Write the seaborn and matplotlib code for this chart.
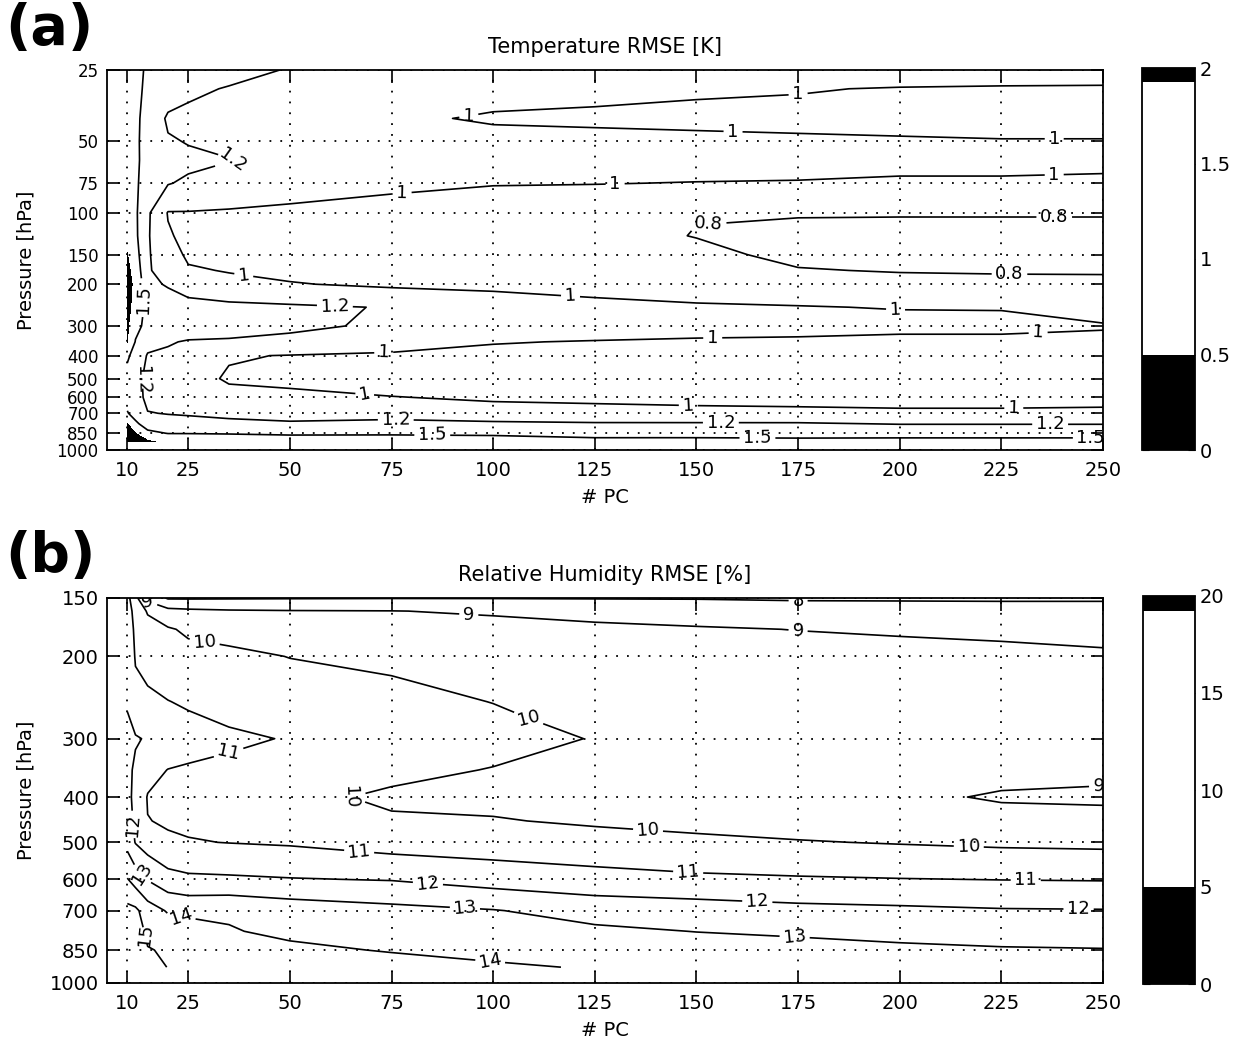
import numpy as np
import matplotlib
matplotlib.use('Agg')
import matplotlib.pyplot as plt
from matplotlib.colors import ListedColormap, Normalize
from matplotlib.cm import ScalarMappable
import seaborn as sns

# number of principal components (grid columns, shared by both panels)
n_pc = [10, 12, 15, 20, 25, 35, 50, 75, 100, 125, 150, 175, 200, 225, 250]

# (a) temperature RMSE [K], one profile per PC column, top (25 hPa) to bottom (925 hPa)
p_temp = [25, 30, 40, 50, 60, 75, 100, 125, 150, 175, 200, 250, 300, 350, 400, 500, 600, 700, 775, 850, 925]
temp_rmse = [
    [1.85, 1.85, 1.84, 1.83, 1.83, 1.84, 1.86, 1.88, 1.93, 2.05, 2.1, 2.05, 1.98, 1.93, 1.55, 1.38, 1.4, 1.52, 1.93, 2.1, 2.3],
    [1.6, 1.6, 1.58, 1.57, 1.57, 1.56, 1.55, 1.56, 1.62, 1.7, 1.8, 1.75, 1.6, 1.48, 1.38, 1.3, 1.3, 1.38, 1.56, 1.92, 2.2],
    [1.45, 1.42, 1.36, 1.35, 1.36, 1.32, 1.23, 1.22, 1.22, 1.22, 1.25, 1.38, 1.4, 1.28, 1.18, 1.12, 1.14, 1.21, 1.35, 1.58, 2.0],
    [1.38, 1.3, 1.17, 1.22, 1.27, 1.21, 0.99, 1.02, 1.08, 1.12, 1.18, 1.32, 1.36, 1.22, 1.16, 1.12, 1.13, 1.19, 1.29, 1.49, 1.8],
    [1.3, 1.23, 1.16, 1.19, 1.24, 1.17, 0.99, 0.95, 0.97, 1.02, 1.1, 1.28, 1.33, 1.18, 1.1, 1.05, 1.07, 1.18, 1.27, 1.49, 1.75],
    [1.25, 1.19, 1.12, 1.17, 1.205, 1.12, 0.98, 0.95, 0.96, 0.99, 1.05, 1.25, 1.3, 1.17, 1.01, 0.985, 1.04, 1.16, 1.24, 1.48, 1.72],
    [1.19, 1.12, 1.07, 1.1, 1.15, 1.08, 0.96, 0.93, 0.93, 0.96, 1.01, 1.23, 1.26, 1.12, 0.995, 0.97, 1.03, 1.14, 1.22, 1.45, 1.7],
    [1.15, 1.09, 1.03, 1.08, 1.1, 1.04, 0.92, 0.9, 0.91, 0.95, 0.97, 1.19, 1.15, 1.06, 0.98, 0.93, 1.005, 1.1, 1.27, 1.46, 1.68],
    [1.13, 1.06, 0.98, 1.06, 1.09, 1.01, 0.88, 0.87, 0.89, 0.93, 0.98, 1.05, 1.12, 1.01, 0.95, 0.91, 0.98, 1.06, 1.24, 1.45, 1.65],
    [1.12, 1.04, 0.97, 1.05, 1.08, 1.005, 0.86, 0.85, 0.87, 0.9, 0.95, 1.04, 1.1, 0.99, 0.94, 0.9, 0.97, 1.05, 1.22, 1.38, 1.62],
    [1.12, 1.02, 0.96, 1.04, 1.07, 0.995, 0.805, 0.795, 0.84, 0.87, 0.92, 1.02, 1.09, 0.97, 0.93, 0.89, 0.96, 1.04, 1.22, 1.38, 1.62],
    [1.12, 1.01, 0.95, 1.03, 1.06, 0.99, 0.81, 0.76, 0.76, 0.81, 0.87, 1.01, 1.08, 0.96, 0.92, 0.88, 0.96, 1.03, 1.22, 1.38, 1.6],
    [1.1, 0.99, 0.94, 1.02, 1.06, 0.97, 0.81, 0.75, 0.74, 0.79, 0.86, 0.99, 1.07, 0.93, 0.92, 0.88, 0.96, 1.02, 1.19, 1.37, 1.62],
    [1.1, 0.98, 0.93, 1.01, 1.06, 0.97, 0.81, 0.75, 0.73, 0.78, 0.86, 0.99, 1.05, 0.95, 0.92, 0.88, 0.96, 1.02, 1.19, 1.37, 1.62],
    [1.08, 0.98, 0.93, 1.01, 1.05, 0.96, 0.81, 0.75, 0.73, 0.78, 0.85, 0.95, 1.01, 0.97, 0.93, 0.9, 0.97, 1.02, 1.19, 1.37, 1.62],
]
temp_levels = [0.8, 1, 1.2, 1.5]
temp_yticks = [25, 50, 75, 100, 150, 200, 300, 400, 500, 600, 700, 850, 1000]
temp_cbar_ticks = [0, 0.5, 1, 1.5, 2]

# (b) relative humidity RMSE [%], one profile per PC column, 150 hPa to 925 hPa
p_rh = [150, 160, 175, 200, 250, 300, 350, 400, 450, 500, 600, 700, 775, 850, 925]
rh_rmse = [
    [11.3, 11.4, 11.45, 11.5, 11.9, 12.3, 12.3, 12.3, 12.4, 12.7, 14.05, 15.3, 15.6, 15.8, 15.9],
    [10.3, 10.7, 10.85, 10.95, 11.2, 12.1, 11.8, 11.7, 11.8, 11.95, 13.6, 15.2, 15.5, 15.7, 15.8],
    [8.7, 9.9, 10.4, 10.75, 11.15, 11.9, 11.3, 10.95, 11.02, 11.55, 12.95, 14.5, 14.8, 15.05, 15.3],
    [7.9, 9.3, 10.1, 10.5, 11.02, 11.6, 10.98, 10.8, 10.93, 11.1, 12.4, 13.9, 14.6, 14.9, 14.98],
    [7.9, 9.2, 9.85, 10.3, 10.9, 11.35, 10.9, 10.7, 10.85, 11.05, 12.2, 13.8, 14.4, 14.7, 14.95],
    [7.92, 9.1, 9.7, 10.2, 10.7, 11.15, 10.8, 10.55, 10.7, 10.98, 12.15, 13.9, 14.05, 14.3, 14.7],
    [7.94, 9.05, 9.6, 9.98, 10.5, 10.95, 10.7, 10.3, 10.5, 10.9, 12.05, 13.6, 13.85, 14.15, 14.5],
    [7.96, 9.02, 9.4, 9.8, 10.3, 10.7, 10.3, 9.8, 10.15, 10.6, 11.95, 13.3, 13.65, 13.95, 14.3],
    [7.96, 8.9, 9.3, 9.6, 9.98, 10.4, 9.95, 9.8, 10.05, 10.5, 11.6, 13.05, 13.5, 13.8, 14.1],
    [7.95, 8.7, 9.2, 9.55, 9.8, 9.95, 9.85, 9.75, 9.9, 10.3, 11.4, 12.6, 13.2, 13.6, 13.95],
    [7.95, 8.5, 9.1, 9.5, 9.75, 9.8, 9.7, 9.6, 9.8, 10.15, 11.2, 12.5, 12.98, 13.5, 13.9],
    [7.9, 8.4, 8.98, 9.4, 9.65, 9.7, 9.55, 9.45, 9.65, 10.05, 11.1, 12.3, 12.85, 13.35, 13.8],
    [7.9, 8.35, 8.9, 9.3, 9.6, 9.6, 9.4, 9.2, 9.45, 9.95, 11.03, 12.2, 12.7, 13.2, 13.7],
    [7.9, 8.3, 8.85, 9.2, 9.55, 9.55, 9.3, 8.9, 9.35, 9.85, 10.98, 12.08, 12.55, 13.1, 13.6],
    [7.9, 8.3, 8.8, 9.1, 9.5, 9.5, 9.2, 8.85, 9.3, 9.8, 10.95, 12.05, 12.5, 13.05, 13.5],
]
rh_levels = [8, 9, 10, 11, 12, 13, 14, 15]
rh_yticks = [150, 200, 300, 400, 500, 600, 700, 850, 1000]
rh_cbar_ticks = [0, 5, 10, 15, 20]

pc_ticks = [10, 25, 50, 75, 100, 125, 150, 175, 200, 225, 250]

# where the contour labels sit, (PC, hPa)
temp_label_pos = [(94, 38), (175, 31), (159, 45.6), (238, 47), (36, 63), (77.6, 85), (130, 76),
                  (238, 71.4), (153, 112), (238, 102), (227, 175), (38.5, 196), (119, 227),
                  (199, 250), (61, 262), (73, 372), (154, 338), (234, 312), (68.5, 576),
                  (148, 647), (228, 647), (76, 750), (156, 765), (237, 783), (85, 870),
                  (165, 887), (247, 890), (12.5, 233), (14, 508)]
rh_label_pos = [(15, 153.7), (94, 160.7), (175, 151.5), (175, 175), (29, 189), (109, 262),
                (60, 416), (138, 480), (217, 507), (249, 396), (35, 325), (67, 525),
                (148, 575), (231, 602), (11.2, 459), (84, 608), (165, 665), (244, 690),
                (13.2, 587), (93, 695), (174, 810), (23, 726), (99, 910), (14, 791)]

sns.set_style('ticks')
plt.rcParams['font.family'] = ['DejaVu Sans']
plt.rcParams.update({'axes.linewidth': 1.3, 'text.color': 'black', 'axes.labelcolor': 'black',
                     'axes.edgecolor': 'black', 'xtick.color': 'black', 'ytick.color': 'black'})

# black below 25 %, white in the middle, black above ~96 % of the range
bw = ListedColormap(['black'] * 20 + ['white'] * 57 + ['black'] * 3)
bw.set_over('black')
bw.set_under('black')


def draw_panel(fig, ax, cax, pressures, values, levels, vmax, yticks, ytick_size, cbar_ticks,
               label_pos, title, tag):
    X, Y = np.meshgrid(n_pc, pressures)
    Z = np.array(values).T
    norm = Normalize(0, vmax)
    ax.contourf(X, Y, Z, levels=np.linspace(0, vmax, 81), cmap=bw, norm=norm, extend='both')
    cs = ax.contour(X, Y, Z, levels=levels, colors='k', linewidths=1.2)
    ax.clabel(cs, levels, manual=label_pos, inline=True, inline_spacing=4,
              fmt='%g', fontsize=13)

    ax.set_yscale('log')
    ax.set_ylim(1000, yticks[0])
    ax.set_xlim(5, 250)
    ax.set_yticks(yticks)
    ax.set_yticklabels([str(t) for t in yticks])
    ax.yaxis.set_minor_locator(matplotlib.ticker.NullLocator())
    ax.set_xticks(pc_ticks)
    ax.set_xticklabels([str(t) for t in pc_ticks])
    ax.tick_params(direction='in', top=True, right=True, length=9, width=1.2,
                   labelsize=14, pad=8)
    ax.tick_params(axis='y', labelsize=ytick_size, pad=6)
    ax.grid(True, linestyle=(0, (1, 5)), color='k', linewidth=1.3)
    ax.set_axisbelow(False)
    ax.set_xlabel('# PC', fontsize=14, labelpad=6)
    ax.set_ylabel('Pressure [hPa]', fontsize=14)
    ax.yaxis.set_label_coords(-0.072, 0.5)
    ax.set_title(title, fontsize=15, pad=12)

    cb = fig.colorbar(ScalarMappable(norm=norm, cmap=bw), cax=cax)
    cb.set_ticks(cbar_ticks)
    cb.set_ticklabels([f'{t:g}' for t in cbar_ticks])
    cax.tick_params(direction='in', left=True, right=True, length=5, labelsize=14)
    cb.outline.set_linewidth(1.3)

    pos = ax.get_position()
    fig.text(0.004, pos.y1 + 26 / 1040, tag, fontsize=40, fontweight='bold', va='baseline')


fig = plt.figure(figsize=(12.33, 10.40), dpi=100)
ax_a = fig.add_axes([107 / 1233, 1 - 450 / 1040, 996 / 1233, 380 / 1040])
cax_a = fig.add_axes([1142 / 1233, 1 - 450 / 1040, 53 / 1233, 382 / 1040])
ax_b = fig.add_axes([107 / 1233, 1 - 983 / 1040, 996 / 1233, 385 / 1040])
cax_b = fig.add_axes([1143 / 1233, 1 - 984 / 1040, 52 / 1233, 388 / 1040])

draw_panel(fig, ax_a, cax_a, p_temp, temp_rmse, temp_levels, 2, temp_yticks, 12, temp_cbar_ticks,
           temp_label_pos, 'Temperature RMSE [K]', '(a)')
draw_panel(fig, ax_b, cax_b, p_rh, rh_rmse, rh_levels, 20, rh_yticks, 14, rh_cbar_ticks,
           rh_label_pos, 'Relative Humidity RMSE [%]', '(b)')

fig.savefig('out.png', dpi=100)
